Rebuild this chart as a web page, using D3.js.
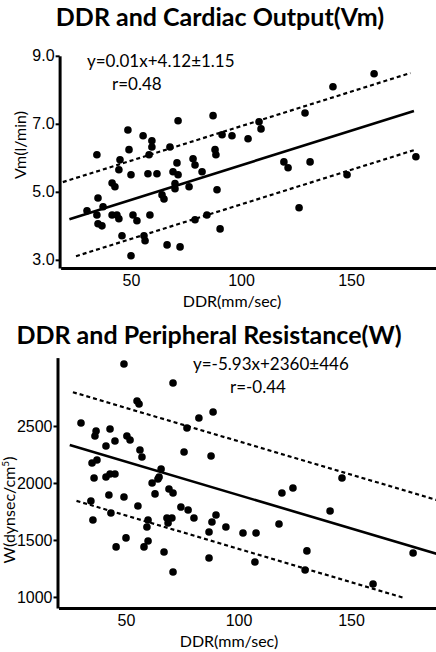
<!DOCTYPE html>
<html>
<head>
<meta charset="UTF-8">
<title>DDR scatter</title>
<script src="https://cdnjs.cloudflare.com/ajax/libs/d3/7.8.5/d3.min.js"></script>
<style>
    body { margin: 0; background: #fff; }
    svg { display: block; font-family: "Lato", sans-serif; }
    .domain { stroke: #000; stroke-width: 3; }
    .tick line { stroke: #000; stroke-width: 2; }
    .tick text { font-size: 16px; fill: #000; }
</style>
</head>
<body>
<svg id="chart" width="436" height="652"></svg>
<script>
    // --- top chart: DDR vs cardiac output (Vm) ---
    var vmDDR = [160.5, 141.8, 129.1, 108.2, 109.1, 103.2, 95.9, 91.4, 87.3, 71.4,
        88.2, 88.6, 67.7, 59.5, 59.5, 58.2, 55.5, 48.6, 49.1, 34.5,
        45.0, 44.5, 70.9, 78.2, 79.1, 82.3, 50.0, 57.7, 61.8, 69.1,
        71.4, 41.4, 42.7, 70.0, 70.0, 76.4, 89.1, 35.0, 64.1, 65.0,
        37.3, 30.0, 34.5, 41.4, 43.6, 44.5, 50.9, 52.7, 58.6, 35.0,
        36.8, 79.1, 84.5, 90.5, 45.9, 55.9, 56.4, 66.4, 72.3, 50.0,
        119.5, 121.4, 131.4, 179.5, 148.2, 126.4];
    var vmVal = [8.47, 8.09, 7.32, 7.06, 6.85, 6.56, 6.65, 6.68, 7.24, 7.09,
        6.24, 6.09, 6.32, 6.50, 6.32, 6.09, 6.65, 6.82, 6.24, 6.09,
        5.94, 5.65, 5.85, 5.97, 5.79, 5.59, 5.50, 5.53, 5.53, 5.59,
        5.50, 5.26, 5.15, 5.24, 5.09, 5.15, 5.06, 4.82, 4.91, 4.79,
        4.56, 4.44, 4.32, 4.32, 4.32, 4.21, 4.32, 4.15, 4.32, 4.06,
        4.00, 4.18, 4.32, 3.91, 3.71, 3.71, 3.56, 3.44, 3.38, 3.12,
        5.88, 5.71, 5.88, 6.03, 5.50, 4.53];
    var vmTicks = [3, 5, 7, 9];
    // regression as drawn: slope, intercept, band, and x extents [solid, upper, lower]
    var vmFit = [0.0203, 3.75, 1.15];
    var vmSpans = [[22, 178.6], [19, 177], [25, 179.5]];

    // --- bottom chart: DDR vs peripheral resistance (W) ---
    var wDDR = [49.1, 70.9, 54.9, 55.8, 82.4, 88.7, 77.1, 30.0, 36.7, 36.2,
        42.9, 50.4, 51.8, 45.1, 41.1, 56.2, 57.1, 75.8, 87.8, 37.1,
        34.9, 65.6, 64.7, 61.6, 64.2, 35.8, 41.1, 42.9, 45.1, 146.0,
        124.2, 119.3, 69.1, 70.9, 62.9, 42.4, 49.1, 34.4, 55.3, 74.4,
        77.6, 80.2, 43.3, 59.8, 59.3, 68.2, 70.4, 68.7, 35.3, 50.0,
        45.6, 59.8, 58.0, 66.9, 70.9, 90.0, 88.2, 86.9, 94.4, 102.0,
        107.8, 118.0, 140.7, 130.4, 129.6, 159.8, 177.6, 107.3, 86.9];
    var wVal = [3044, 2877, 2719, 2693, 2570, 2623, 2482, 2526, 2456, 2412,
        2474, 2412, 2377, 2368, 2325, 2289, 2228, 2272, 2237, 2202,
        2175, 2123, 2053, 2000, 2035, 2044, 2053, 2079, 2079, 2044,
        1956, 1912, 1947, 1912, 1904, 1895, 1877, 1842, 1798, 1789,
        1763, 1693, 1737, 1675, 1614, 1693, 1693, 1649, 1675, 1518,
        1439, 1491, 1439, 1395, 1219, 1719, 1658, 1570, 1614, 1561,
        1561, 1640, 1754, 1404, 1237, 1114, 1386, 1307, 1342];
    var wTicks = [1000, 1500, 2000, 2500];
    var wFit = [-5.85, 2479, 472];
    var wSpans = [[25, 190], [26.4, 190], [28, 174]];

    var ddrTicks = [50, 100, 150];

    var svg = d3.select("#chart");

    function drawPanel(opt) {
        var g = svg.append("g");
        var x = d3.scaleLinear().domain(opt.xDomain).range(opt.xRange);
        var y = d3.scaleLinear().domain(opt.yDomain).range(opt.yRange);

        g.append("text")
            .attr("x", opt.titleX).attr("y", opt.titleY)
            .attr("text-anchor", "middle")
            .style("font-size", "25px").style("font-weight", "bold")
            .text(opt.title);

        g.append("g")
            .attr("transform", `translate(${opt.xRange[0] - 1},0)`)
            .call(d3.axisLeft(y).tickValues(opt.yTicks).tickSize(4).tickSizeOuter(0)
                .tickPadding(1).tickFormat(opt.yFormat));

        g.append("g")
            .attr("transform", `translate(0,${opt.yRange[0]})`)
            .call(d3.axisBottom(x).tickValues(ddrTicks).tickSize(0).tickSizeOuter(0).tickPadding(7))
            .selectAll(".tick text").style("font-size", "16px");

        g.append("text")
            .attr("x", opt.xLabelX).attr("y", opt.xLabelY)
            .attr("text-anchor", "middle")
            .style("font-size", "16px")
            .text("DDR(mm/sec)");

        var yl = g.append("text")
            .attr("transform", `translate(${opt.yLabelX},${opt.yLabelY}) rotate(-90)`)
            .attr("text-anchor", "middle")
            .style("font-size", "16px");
        opt.yLabel(yl);

        // regression line and +/- band
        var fit = opt.fit;
        var lines = [
            {off: 0, span: opt.spans[0], dash: null, w: 2.6},
            {off: fit[2], span: opt.spans[1], dash: "4,3", w: 2.2},
            {off: -fit[2], span: opt.spans[2], dash: "4,3", w: 2.2}
        ];
        g.selectAll("line.fit")
            .data(lines)
            .enter()
            .append("line")
            .attr("class", "fit")
            .attr("x1", d => x(d.span[0]))
            .attr("x2", d => x(d.span[1]))
            .attr("y1", d => y(fit[0] * d.span[0] + fit[1] + d.off))
            .attr("y2", d => y(fit[0] * d.span[1] + fit[1] + d.off))
            .style("stroke", "#000")
            .style("stroke-width", d => d.w)
            .style("stroke-dasharray", d => d.dash);

        g.selectAll("circle.pt")
            .data(opt.xs.map((v, i) => [v, opt.ys[i]]))
            .enter()
            .append("circle")
            .attr("class", "pt")
            .attr("cx", d => x(d[0]))
            .attr("cy", d => y(d[1]))
            .attr("r", 3.8)
            .style("fill", "#000");

        opt.eq.forEach(e => {
            g.append("text")
                .attr("x", e[0]).attr("y", e[1])
                .style("font-size", "17px")
                .text(e[2]);
        });
    }

    drawPanel({
        title: "DDR and Cardiac Output(Vm)", titleX: 220, titleY: 26,
        xDomain: [18, 189], xRange: [60.6, 436.8],
        yDomain: [2.76, 9.0], yRange: [268, 55.8],
        yTicks: vmTicks, yFormat: d3.format(".1f"),
        xLabelX: 232, xLabelY: 307,
        yLabelX: 26, yLabelY: 145,
        yLabel: t => t.text("Vm(l/min)"),
        fit: vmFit, spans: vmSpans,
        xs: vmDDR, ys: vmVal,
        eq: [[87, 67, "y=0.01x+4.12±1.15"], [112, 90, "r=0.48"]]
    });

    drawPanel({
        title: "DDR and Peripheral Resistance(W)", titleX: 209, titleY: 344,
        xDomain: [20, 190], xRange: [58.5, 441],
        yDomain: [903, 3100], yRange: [608, 357.6],
        yTicks: wTicks, yFormat: d3.format("d"),
        xLabelX: 229, xLabelY: 647,
        yLabelX: 15, yLabelY: 510,
        yLabel: t => {
            t.append("tspan").text("W(dynsec/cm");
            t.append("tspan").attr("dy", -6).style("font-size", "10px").text("5");
            t.append("tspan").attr("dy", 6).text(")");
        },
        fit: wFit, spans: wSpans,
        xs: wDDR, ys: wVal,
        eq: [[193, 370, "y=-5.93x+2360±446"], [230, 393, "r=-0.44"]]
    });
</script>
</body>
</html>
